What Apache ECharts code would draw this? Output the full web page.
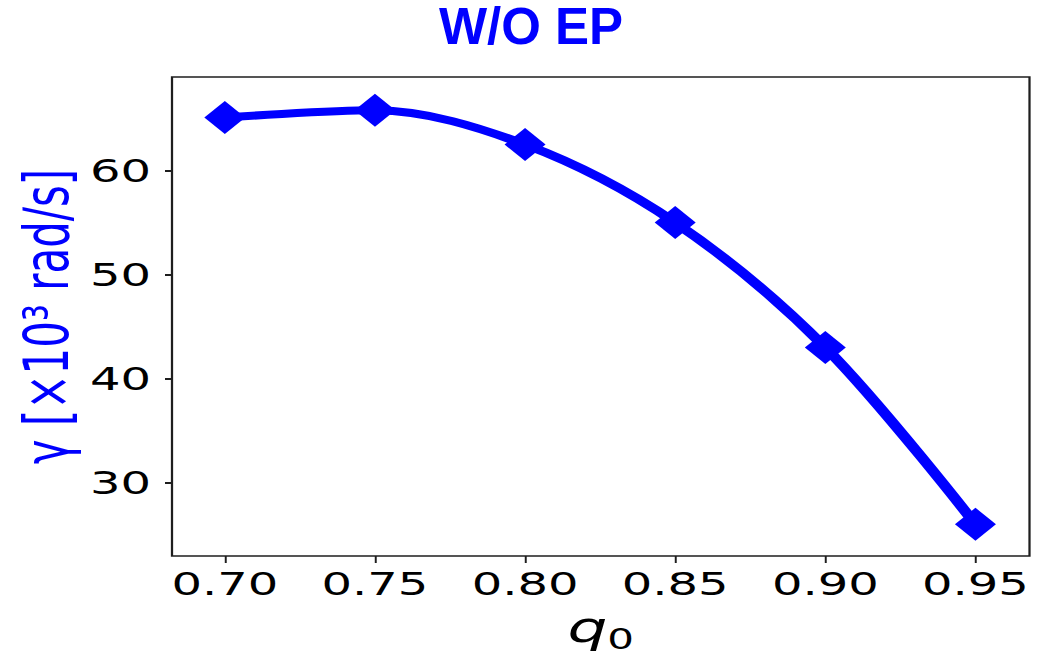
<!DOCTYPE html>
<html>
<head>
<meta charset="utf-8">
<script src="https://cdn.jsdelivr.net/npm/echarts@6/dist/echarts.min.js"></script>
<style>
  html, body { margin: 0; padding: 0; background: #ffffff; overflow: hidden; }
  /* the plot is laid out narrow and widened 1.5x horizontally */
  #chart { width: 699.333px; height: 657px; transform: scaleX(1.5); transform-origin: 0 0; }
</style>
</head>
<body>
<div id="chart"></div>
<script>
// safety factor q0 and growth rate gamma [x10^3 rad/s]
const q0 = [0.70, 0.75, 0.80, 0.85, 0.90, 0.95];
const gamma = [65.1, 65.8, 62.5, 55.0, 43.0, 26.0];
const xTicks = [0.70, 0.75, 0.80, 0.85, 0.90, 0.95];
const yTicks = [30, 40, 50, 60];
const titleText = 'W/O EP';

const SX = 1.5; // horizontal stretch applied to the chart element
const chart = echarts.init(document.getElementById('chart'), null, { renderer: 'svg' });

const tickFont = { fontFamily: 'DejaVu Sans', fontSize: 32, color: '#000000' };

chart.setOption({
  animation: false,
  backgroundColor: '#ffffff',
  grid: {
    left: 172 / SX, right: 19 / SX, top: 77, bottom: 101,
    outerBoundsMode: 'none',
    show: true, borderColor: '#1e1e1e', borderWidth: 1.5, backgroundColor: 'transparent'
  },
  graphic: [{
    type: 'text',
    x: 531 / SX, y: 27,
    scaleX: 1 / SX, scaleY: 1,
    style: {
      text: titleText,
      font: 'bold 51px "Liberation Sans", Arial, sans-serif',
      fill: '#0000ff',
      align: 'center',
      verticalAlign: 'middle'
    }
  }],
  xAxis: {
    type: 'value',
    min: 0.6824, max: 0.968,
    axisLine: { show: false },
    splitLine: { show: false },
    axisTick: { show: true, customValues: xTicks, length: 7, lineStyle: { color: '#1e1e1e', width: 1.3 } },
    axisLabel: Object.assign({ customValues: xTicks, margin: 12, formatter: v => v.toFixed(2) }, tickFont),
    name: '{q|q}{s|0}',
    nameLocation: 'middle',
    nameGap: 50,
    nameMoveOverlap: false,
    nameTextStyle: {
      rich: {
        q: { fontFamily: 'DejaVu Sans', fontStyle: 'italic', fontSize: 42, lineHeight: 42, color: '#000000', verticalAlign: 'top' },
        s: { fontFamily: 'DejaVu Sans', fontSize: 28, lineHeight: 28, color: '#000000', verticalAlign: 'top', padding: [19, 0, 0, 0] }
      }
    }
  },
  yAxis: {
    type: 'value',
    min: 22.95, max: 69.0,
    axisLine: { show: false },
    splitLine: { show: false },
    axisTick: { show: true, customValues: yTicks, length: 7 / SX, lineStyle: { color: '#1e1e1e', width: 2 } },
    axisLabel: Object.assign({ customValues: yTicks, margin: 14 }, tickFont),
    name: 'γ [×10³ rad/s]',
    nameLocation: 'middle',
    nameRotate: 90,
    nameGap: 63,
    nameMoveOverlap: false,
    nameTextStyle: { fontFamily: 'DejaVu Sans', fontSize: 42, color: '#0000ff' }
  },
  series: [{
    type: 'line',
    data: q0.map((q, i) => [q, gamma[i]]),
    smooth: 0.33,
    symbol: 'diamond',
    symbolSize: [41 / SX, 33],
    lineStyle: { color: '#0000ff', width: 8 },
    itemStyle: { color: '#0000ff' },
    clip: false
  }]
});
</script>
</body>
</html>
